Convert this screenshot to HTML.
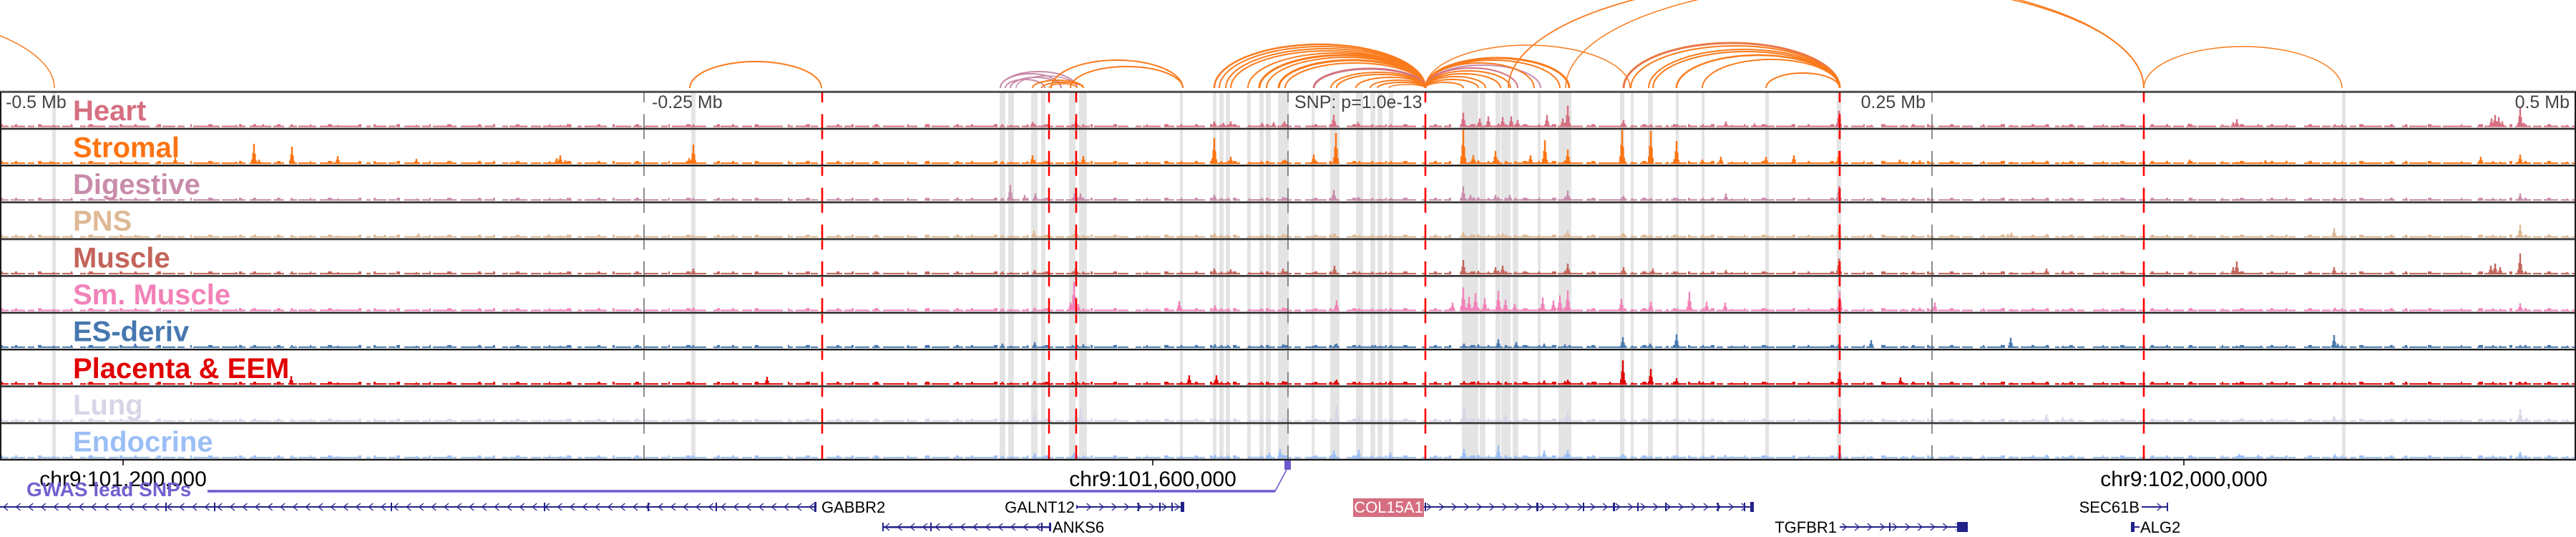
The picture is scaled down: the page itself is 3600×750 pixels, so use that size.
<!DOCTYPE html>
<html><head><meta charset="utf-8">
<style>
html,body{margin:0;padding:0;background:#fff;}
body{width:3600px;height:750px;overflow:hidden;}
svg{display:block;font-family:"Liberation Sans",Arial,sans-serif;}
</style></head>
<body>
<svg width="3600" height="750" viewBox="0 0 3600 750" xmlns="http://www.w3.org/2000/svg">
<defs>
<path id="pk" d="M-4 0V-.22H-2.5V-.55H-1.2V-1H1.2V-.5H2.6V-.18H4V0Z"/>
<g id="cb">
<use href="#pk" transform="translate(75)scale(1,3)"/><use href="#pk" transform="translate(190)scale(1,3)"/><use href="#pk" transform="translate(330)scale(1,3)"/><use href="#pk" transform="translate(355)scale(1,4)"/><use href="#pk" transform="translate(408)scale(1,4)"/><use href="#pk" transform="translate(472)scale(1,3)"/><use href="#pk" transform="translate(582)scale(1,3)"/><use href="#pk" transform="translate(783)scale(1,3)"/><use href="#pk" transform="translate(969)scale(1,4)"/><use href="#pk" transform="translate(1227)scale(1,3)"/>
<use href="#pk" transform="translate(1401)scale(1,4)"/><use href="#pk" transform="translate(1413)scale(1,3)"/><use href="#pk" transform="translate(1446)scale(1,5)"/><use href="#pk" transform="translate(1458)scale(1,3)"/><use href="#pk" transform="translate(1499)scale(1,4)"/><use href="#pk" transform="translate(1514)scale(1,4)"/><use href="#pk" transform="translate(1651)scale(1,4)"/><use href="#pk" transform="translate(1698)scale(1,5)"/><use href="#pk" transform="translate(1707)scale(1,4)"/><use href="#pk" transform="translate(1716)scale(1,4)"/><use href="#pk" transform="translate(1746)scale(1,3)"/><use href="#pk" transform="translate(1763)scale(1,4)"/><use href="#pk" transform="translate(1772)scale(1,4)"/><use href="#pk" transform="translate(1793)scale(1,5)"/><use href="#pk" transform="translate(1835)scale(1,3)"/><use href="#pk" transform="translate(1866)scale(1,5)"/><use href="#pk" transform="translate(1900)scale(1,4)"/><use href="#pk" transform="translate(1918)scale(1,4)"/><use href="#pk" transform="translate(1929)scale(1,3)"/><use href="#pk" transform="translate(1944)scale(1,4)"/>
<use href="#pk" transform="translate(2046)scale(1,5)"/><use href="#pk" transform="translate(2056)scale(1,4)"/><use href="#pk" transform="translate(2066)scale(1,5)"/><use href="#pk" transform="translate(2080)scale(1,4)"/><use href="#pk" transform="translate(2094)scale(1,5)"/><use href="#pk" transform="translate(2105)scale(1,4)"/><use href="#pk" transform="translate(2118)scale(1,4)"/><use href="#pk" transform="translate(2135)scale(1,3)"/><use href="#pk" transform="translate(2151)scale(1,4)"/><use href="#pk" transform="translate(2170)scale(1,4)"/><use href="#pk" transform="translate(2187)scale(1,5)"/><use href="#pk" transform="translate(2220)scale(1,3)"/><use href="#pk" transform="translate(2267)scale(1,5)"/><use href="#pk" transform="translate(2281)scale(1,3)"/><use href="#pk" transform="translate(2307)scale(1,4)"/><use href="#pk" transform="translate(2330)scale(1,3)"/><use href="#pk" transform="translate(2344)scale(1,4)"/><use href="#pk" transform="translate(2380)scale(1,4)"/><use href="#pk" transform="translate(2420)scale(1,3)"/><use href="#pk" transform="translate(2470)scale(1,3)"/><use href="#pk" transform="translate(2570)scale(1,6)"/>
<use href="#pk" transform="translate(2615)scale(1,3)"/><use href="#pk" transform="translate(2660)scale(1,3)"/><use href="#pk" transform="translate(2700)scale(1,3)"/><use href="#pk" transform="translate(2811)scale(1,3)"/><use href="#pk" transform="translate(2860)scale(1,4)"/><use href="#pk" transform="translate(2883)scale(1,3)"/><use href="#pk" transform="translate(3060)scale(1,3)"/><use href="#pk" transform="translate(3126)scale(1,3)"/><use href="#pk" transform="translate(3160)scale(1,3)"/><use href="#pk" transform="translate(3263)scale(1,4)"/><use href="#pk" transform="translate(3484)scale(1,4)"/><use href="#pk" transform="translate(3494)scale(1,3)"/><use href="#pk" transform="translate(3522)scale(1,4)"/><use href="#pk" transform="translate(3588)scale(1,3)"/>
<line x1="0" x2="3600" y1="-1" y2="-1" stroke-width="2" stroke="currentColor" stroke-dasharray="12 3 20 4 9 6 30 3 15 10 8 2 25 5 14 3 40 8 6 4 18 3 10 12 22 3"/>
<line x1="0" x2="3600" y1="-2" y2="-2" stroke-width="4" stroke="currentColor" stroke-dasharray="4 17 3 29 5 41 2 23 6 37"/>
</g>
<pattern id="cL1" patternUnits="userSpaceOnUse" x="0" y="702" width="17.6" height="12"><path d="M11 1L5 6L11 11" fill="none" stroke="#22228a" stroke-width="1.3"/></pattern>
<pattern id="cR1" patternUnits="userSpaceOnUse" x="0" y="702" width="17.6" height="12"><path d="M5 1L11 6L5 11" fill="none" stroke="#22228a" stroke-width="1.3"/></pattern>
<pattern id="cL2" patternUnits="userSpaceOnUse" x="0" y="730" width="17.6" height="12"><path d="M11 1L5 6L11 11" fill="none" stroke="#22228a" stroke-width="1.3"/></pattern>
<pattern id="cR2" patternUnits="userSpaceOnUse" x="0" y="730" width="17.6" height="12"><path d="M5 1L11 6L5 11" fill="none" stroke="#22228a" stroke-width="1.3"/></pattern>
</defs>

<!-- arcs -->
<g fill="none" stroke="#fa7b1c" stroke-width="2">
<path stroke-width="1.5" d="M-524 123A300 110 0 0 1 76 123"/>
<path d="M964 123A92 37 0 0 1 1148 123"/>
<path stroke="#c88aaa" d="M1398 123A53.5 23 0 0 1 1505 123"/>
<path stroke="#c88aaa" d="M1398 123A42.5 20 0 0 1 1483 123"/>
<path stroke="#c88aaa" d="M1412 123A35.5 15 0 0 1 1483 123"/>
<path stroke="#c88aaa" d="M1405 123A27.5 12 0 0 1 1460 123"/>
<path stroke="#c88aaa" stroke-width="1.5" d="M1420 123A42.5 17 0 0 1 1505 123"/>
<path d="M1443 123A35.5 11 0 0 1 1514 123"/>
<path d="M1456 123A29 8 0 0 1 1514 123"/>
<path stroke-width="1.5" d="M1466 123A19.5 6 0 0 1 1505 123"/>
<path d="M1469 123A92 39 0 0 1 1653 123"/>
<path d="M1496 123A78.5 30 0 0 1 1653 123"/>
<path stroke-width="2.5" d="M1697 123A147.5 61 0 0 1 1992 123"/>
<path d="M1704 123A144 58 0 0 1 1992 123"/>
<path d="M1713 123A139.5 55 0 0 1 1992 123"/>
<path d="M1720 123A136 52 0 0 1 1992 123"/>
<path d="M1744 123A124 49 0 0 1 1992 123"/>
<path stroke-width="3" d="M1760 123A116 46 0 0 1 1992 123"/>
<path d="M1770 123A111 43 0 0 1 1992 123"/>
<path stroke-width="3" d="M1787 123A102.5 39 0 0 1 1992 123"/>
<path d="M1796 123A98 35 0 0 1 1992 123"/>
<path stroke="#d4717f" stroke-width="3" d="M1836 123A78 27 0 0 1 1992 123"/>
<path d="M1860 123A66 22 0 0 1 1992 123"/>
<path d="M1868 123A62 19 0 0 1 1992 123"/>
<path d="M1895 123A48.5 15 0 0 1 1992 123"/>
<path d="M1915 123A38.5 11 0 0 1 1992 123"/>
<path d="M1925 123A33.5 8 0 0 1 1992 123"/>
<path stroke-width="1.5" d="M1941 123A25.5 5 0 0 1 1992 123"/>
<path stroke-width="3" d="M1992 123A100.5 42 0 0 1 2193 123"/>
<path d="M1992 123A94 39 0 0 1 2180 123"/>
<path stroke="#c88aaa" d="M1992 123A80.5 32 0 0 1 2153 123"/>
<path d="M1992 123A76 35 0 0 1 2144 123"/>
<path stroke="#d4717f" d="M1992 123A64.5 28 0 0 1 2121 123"/>
<path d="M1992 123A59.5 24 0 0 1 2111 123"/>
<path d="M1992 123A52.5 20 0 0 1 2097 123"/>
<path d="M1992 123A42 16 0 0 1 2076 123"/>
<path d="M1992 123A37 12 0 0 1 2066 123"/>
<path d="M1992 123A26.5 8 0 0 1 2045 123"/>
<path stroke-width="1.5" d="M1992 123A143 60 0 0 1 2278 123"/>
<path stroke-width="1.8" d="M2108 123A444 155 0 0 1 2996 123"/>
<path stroke-width="1.5" d="M2188 123A404 147 0 0 1 2996 123"/>
<path stroke-width="3" d="M2269 123A151 63 0 0 1 2571 123"/>
<path stroke="#d4717f" stroke-width="1.2" d="M2269 123A151 63 0 0 1 2571 123"/>
<path d="M2279 123A146 59 0 0 1 2571 123"/>
<path d="M2304 123A133.5 54 0 0 1 2571 123"/>
<path d="M2310 123A130.5 51 0 0 1 2571 123"/>
<path stroke-width="2.5" d="M2343 123A114 46 0 0 1 2571 123"/>
<path d="M2379 123A96 40 0 0 1 2571 123"/>
<path d="M2468 123A51.5 21 0 0 1 2571 123"/>
<path stroke-width="1.5" d="M2996 123A138.5 58 0 0 1 3273 123"/>
</g>

<!-- gray highlight columns -->
<g fill="#e4e4e4">
<rect x="73" y="129" width="5" height="512"/><rect x="966" y="129" width="6" height="512"/>
<rect x="1397" y="129" width="8" height="512"/><rect x="1409" y="129" width="8" height="512"/><rect x="1441" y="129" width="9" height="512"/><rect x="1455" y="129" width="6" height="512"/><rect x="1494" y="129" width="9" height="512"/><rect x="1508" y="129" width="11" height="512"/>
<rect x="1649" y="129" width="4" height="512"/><rect x="1695" y="129" width="5" height="512"/><rect x="1704" y="129" width="6" height="512"/><rect x="1713" y="129" width="6" height="512"/><rect x="1743" y="129" width="5" height="512"/><rect x="1760" y="129" width="6" height="512"/><rect x="1769" y="129" width="7" height="512"/><rect x="1786" y="129" width="15" height="512"/>
<rect x="1833" y="129" width="4" height="512"/><rect x="1859" y="129" width="13" height="512"/><rect x="1895" y="129" width="10" height="512"/><rect x="1915" y="129" width="7" height="512"/><rect x="1925" y="129" width="7" height="512"/><rect x="1941" y="129" width="6" height="512"/>
<rect x="2043" y="129" width="23" height="512"/><rect x="2068" y="129" width="8" height="512"/><rect x="2090" y="129" width="7" height="512"/><rect x="2098" y="129" width="13" height="512"/><rect x="2114" y="129" width="8" height="512"/><rect x="2149" y="129" width="4" height="512"/><rect x="2178" y="129" width="18" height="512"/>
<rect x="2264" y="129" width="6" height="512"/><rect x="2279" y="129" width="4" height="512"/><rect x="2303" y="129" width="7" height="512"/><rect x="2342" y="129" width="4" height="512"/><rect x="2378" y="129" width="4" height="512"/><rect x="2467" y="129" width="5" height="512"/><rect x="2567" y="129" width="6" height="512"/><rect x="3273" y="129" width="5" height="512"/>
</g>

<!-- signal tracks -->
<g transform="translate(0,177.5)" style="color:#d66e80" fill="currentColor">
<use href="#cb"/>
<use href="#pk" transform="translate(368)scale(1,4)"/><use href="#pk" transform="translate(407)scale(1,3)"/><use href="#pk" transform="translate(1443)scale(1,7)"/><use href="#pk" transform="translate(1503)scale(1,7)"/><use href="#pk" transform="translate(1697)scale(1,8)"/><use href="#pk" transform="translate(1710)scale(1,6)"/><use href="#pk" transform="translate(1720)scale(1,8)"/><use href="#pk" transform="translate(1764)scale(1,6)"/><use href="#pk" transform="translate(1780)scale(1,7)"/><use href="#pk" transform="translate(1795)scale(1,8)"/><use href="#pk" transform="translate(1864)scale(1,17)"/><use href="#pk" transform="translate(1898)scale(1,7)"/><use href="#pk" transform="translate(2045)scale(1,20)"/><use href="#pk" transform="translate(2068)scale(1,12)"/><use href="#pk" transform="translate(2080)scale(1,15)"/><use href="#pk" transform="translate(2100)scale(1,14)"/><use href="#pk" transform="translate(2112)scale(1,15)"/><use href="#pk" transform="translate(2121)scale(1,10)"/><use href="#pk" transform="translate(2162)scale(1,17)"/><use href="#pk" transform="translate(2184)scale(1,12)"/><use href="#pk" transform="translate(2191)scale(1,30)"/><use href="#pk" transform="translate(2269)scale(1,10)"/><use href="#pk" transform="translate(2412)scale(1,8)"/><use href="#pk" transform="translate(2452)scale(1,5)"/><use href="#pk" transform="translate(2505)scale(1,4)"/><use href="#pk" transform="translate(2570)scale(1,23)"/><use href="#pk" transform="translate(2861)scale(1,4)"/><use href="#pk" transform="translate(3059)scale(1,5)"/><use href="#pk" transform="translate(3121)scale(1,7)"/><use href="#pk" transform="translate(3126)scale(1,11)"/><use href="#pk" transform="translate(3156)scale(1,4)"/><use href="#pk" transform="translate(3482)scale(1,12)"/><use href="#pk" transform="translate(3487)scale(1,17)"/><use href="#pk" transform="translate(3492)scale(1,14)"/><use href="#pk" transform="translate(3497)scale(1,8)"/><use href="#pk" transform="translate(3522)scale(1,28)"/><use href="#pk" transform="translate(3527)scale(1,6)"/>
</g>
<g transform="translate(0,228.9)" style="color:#fd7311" fill="currentColor">
<use href="#cb"/>
<use href="#pk" transform="translate(71)scale(1,4)"/><use href="#pk" transform="translate(245)scale(1,9)"/><use href="#pk" transform="translate(355)scale(1,28)"/><use href="#pk" transform="translate(362)scale(1,6)"/><use href="#pk" transform="translate(408)scale(1,24)"/><use href="#pk" transform="translate(472)scale(1,11)"/><use href="#pk" transform="translate(582)scale(1,7)"/><use href="#pk" transform="translate(778)scale(1,8)"/><use href="#pk" transform="translate(783)scale(1,12)"/><use href="#pk" transform="translate(790)scale(1,5)"/><use href="#pk" transform="translate(963)scale(1,8)"/><use href="#pk" transform="translate(969)scale(1,27)"/><use href="#pk" transform="translate(1443)scale(1,12)"/><use href="#pk" transform="translate(1514)scale(1,11)"/><use href="#pk" transform="translate(1697)scale(1,36)"/><use href="#pk" transform="translate(1720)scale(1,10)"/><use href="#pk" transform="translate(1796)scale(1,6)"/><use href="#pk" transform="translate(1836)scale(1,13)"/><use href="#pk" transform="translate(1867)scale(1,43)"/><use href="#pk" transform="translate(2045)scale(1,48)"/><use href="#pk" transform="translate(2059)scale(1,12)"/><use href="#pk" transform="translate(2090)scale(1,18)"/><use href="#pk" transform="translate(2139)scale(1,12)"/><use href="#pk" transform="translate(2159)scale(1,33)"/><use href="#pk" transform="translate(2191)scale(1,20)"/><use href="#pk" transform="translate(2267)scale(1,48)"/><use href="#pk" transform="translate(2307)scale(1,46)"/><use href="#pk" transform="translate(2343)scale(1,32)"/><use href="#pk" transform="translate(2379)scale(1,6)"/><use href="#pk" transform="translate(2405)scale(1,10)"/><use href="#pk" transform="translate(2468)scale(1,10)"/><use href="#pk" transform="translate(2507)scale(1,12)"/><use href="#pk" transform="translate(2570)scale(1,18)"/><use href="#pk" transform="translate(2655)scale(1,6)"/><use href="#pk" transform="translate(2683)scale(1,5)"/><use href="#pk" transform="translate(2860)scale(1,4)"/><use href="#pk" transform="translate(3060)scale(1,6)"/><use href="#pk" transform="translate(3166)scale(1,5)"/><use href="#pk" transform="translate(3467)scale(1,10)"/><use href="#pk" transform="translate(3522)scale(1,13)"/>
</g>
<g transform="translate(0,280.3)" style="color:#c88caa" fill="currentColor">
<use href="#cb"/>
<use href="#pk" transform="translate(297)scale(1,3)"/><use href="#pk" transform="translate(1412)scale(1,22)"/><use href="#pk" transform="translate(1432)scale(1,8)"/><use href="#pk" transform="translate(1447)scale(1,10)"/><use href="#pk" transform="translate(1503)scale(1,18)"/><use href="#pk" transform="translate(1510)scale(1,10)"/><use href="#pk" transform="translate(1697)scale(1,8)"/><use href="#pk" transform="translate(1864)scale(1,15)"/><use href="#pk" transform="translate(1898)scale(1,5)"/><use href="#pk" transform="translate(2045)scale(1,20)"/><use href="#pk" transform="translate(2055)scale(1,8)"/><use href="#pk" transform="translate(2090)scale(1,8)"/><use href="#pk" transform="translate(2110)scale(1,8)"/><use href="#pk" transform="translate(2191)scale(1,14)"/><use href="#pk" transform="translate(2269)scale(1,7)"/><use href="#pk" transform="translate(2412)scale(1,10)"/><use href="#pk" transform="translate(2570)scale(1,21)"/><use href="#pk" transform="translate(2860)scale(1,4)"/><use href="#pk" transform="translate(3262)scale(1,4)"/><use href="#pk" transform="translate(3522)scale(1,10)"/>
</g>
<g transform="translate(0,331.7)" style="color:#deb996" fill="currentColor">
<use href="#cb"/>
<use href="#pk" transform="translate(43)scale(1,5)"/><use href="#pk" transform="translate(194)scale(1,3)"/><use href="#pk" transform="translate(538)scale(1,4)"/><use href="#pk" transform="translate(585)scale(1,6)"/><use href="#pk" transform="translate(766)scale(1,4)"/><use href="#pk" transform="translate(1445)scale(1,10)"/><use href="#pk" transform="translate(1503)scale(1,10)"/><use href="#pk" transform="translate(1697)scale(1,6)"/><use href="#pk" transform="translate(1864)scale(1,6)"/><use href="#pk" transform="translate(2045)scale(1,8)"/><use href="#pk" transform="translate(2100)scale(1,6)"/><use href="#pk" transform="translate(2191)scale(1,10)"/><use href="#pk" transform="translate(2269)scale(1,6)"/><use href="#pk" transform="translate(2570)scale(1,14)"/><use href="#pk" transform="translate(2614)scale(1,5)"/><use href="#pk" transform="translate(2806)scale(1,5)"/><use href="#pk" transform="translate(2811)scale(1,7)"/><use href="#pk" transform="translate(2860)scale(1,5)"/><use href="#pk" transform="translate(3126)scale(1,3)"/><use href="#pk" transform="translate(3262)scale(1,13)"/><use href="#pk" transform="translate(3484)scale(1,4)"/><use href="#pk" transform="translate(3522)scale(1,18)"/>
</g>
<g transform="translate(0,383.1)" style="color:#c3645a" fill="currentColor">
<use href="#cb"/>
<use href="#pk" transform="translate(969)scale(1,8)"/><use href="#pk" transform="translate(1446)scale(1,6)"/><use href="#pk" transform="translate(1503)scale(1,8)"/><use href="#pk" transform="translate(1697)scale(1,8)"/><use href="#pk" transform="translate(1720)scale(1,7)"/><use href="#pk" transform="translate(1793)scale(1,8)"/><use href="#pk" transform="translate(1865)scale(1,12)"/><use href="#pk" transform="translate(2045)scale(1,20)"/><use href="#pk" transform="translate(2090)scale(1,10)"/><use href="#pk" transform="translate(2100)scale(1,12)"/><use href="#pk" transform="translate(2191)scale(1,15)"/><use href="#pk" transform="translate(2269)scale(1,10)"/><use href="#pk" transform="translate(2310)scale(1,8)"/><use href="#pk" transform="translate(2412)scale(1,6)"/><use href="#pk" transform="translate(2570)scale(1,22)"/><use href="#pk" transform="translate(2860)scale(1,8)"/><use href="#pk" transform="translate(2883)scale(1,5)"/><use href="#pk" transform="translate(3121)scale(1,10)"/><use href="#pk" transform="translate(3126)scale(1,18)"/><use href="#pk" transform="translate(3262)scale(1,10)"/><use href="#pk" transform="translate(3481)scale(1,12)"/><use href="#pk" transform="translate(3487)scale(1,15)"/><use href="#pk" transform="translate(3494)scale(1,10)"/><use href="#pk" transform="translate(3522)scale(1,29)"/>
</g>
<g transform="translate(0,434.5)" style="color:#f282b9" fill="currentColor">
<use href="#cb"/>
<use href="#pk" transform="translate(353)scale(1,3)"/><use href="#pk" transform="translate(969)scale(1,5)"/><use href="#pk" transform="translate(1446)scale(1,5)"/><use href="#pk" transform="translate(1496)scale(1,12)"/><use href="#pk" transform="translate(1501)scale(1,41)"/><use href="#pk" transform="translate(1507)scale(1,10)"/><use href="#pk" transform="translate(1648)scale(1,14)"/><use href="#pk" transform="translate(1698)scale(1,8)"/><use href="#pk" transform="translate(1868)scale(1,15)"/><use href="#pk" transform="translate(2030)scale(1,12)"/><use href="#pk" transform="translate(2045)scale(1,33)"/><use href="#pk" transform="translate(2053)scale(1,20)"/><use href="#pk" transform="translate(2062)scale(1,25)"/><use href="#pk" transform="translate(2075)scale(1,18)"/><use href="#pk" transform="translate(2094)scale(1,28)"/><use href="#pk" transform="translate(2104)scale(1,16)"/><use href="#pk" transform="translate(2117)scale(1,10)"/><use href="#pk" transform="translate(2156)scale(1,19)"/><use href="#pk" transform="translate(2171)scale(1,15)"/><use href="#pk" transform="translate(2180)scale(1,22)"/><use href="#pk" transform="translate(2191)scale(1,29)"/><use href="#pk" transform="translate(2266)scale(1,17)"/><use href="#pk" transform="translate(2307)scale(1,13)"/><use href="#pk" transform="translate(2361)scale(1,27)"/><use href="#pk" transform="translate(2385)scale(1,13)"/><use href="#pk" transform="translate(2411)scale(1,12)"/><use href="#pk" transform="translate(2571)scale(1,28)"/><use href="#pk" transform="translate(2683)scale(1,5)"/><use href="#pk" transform="translate(2704)scale(1,12)"/><use href="#pk" transform="translate(3133)scale(1,4)"/><use href="#pk" transform="translate(3263)scale(1,5)"/><use href="#pk" transform="translate(3522)scale(1,11)"/>
</g>
<g transform="translate(0,485.9)" style="color:#4678af" fill="currentColor">
<use href="#cb"/>
<use href="#pk" transform="translate(189)scale(1,6)"/><use href="#pk" transform="translate(1401)scale(1,6)"/><use href="#pk" transform="translate(1446)scale(1,8)"/><use href="#pk" transform="translate(1514)scale(1,5)"/><use href="#pk" transform="translate(1868)scale(1,6)"/><use href="#pk" transform="translate(1922)scale(1,4)"/><use href="#pk" transform="translate(2046)scale(1,6)"/><use href="#pk" transform="translate(2094)scale(1,12)"/><use href="#pk" transform="translate(2119)scale(1,8)"/><use href="#pk" transform="translate(2158)scale(1,6)"/><use href="#pk" transform="translate(2268)scale(1,15)"/><use href="#pk" transform="translate(2306)scale(1,6)"/><use href="#pk" transform="translate(2343)scale(1,19)"/><use href="#pk" transform="translate(2570)scale(1,5)"/><use href="#pk" transform="translate(2615)scale(1,11)"/><use href="#pk" transform="translate(2810)scale(1,14)"/><use href="#pk" transform="translate(3262)scale(1,18)"/><use href="#pk" transform="translate(3267)scale(1,6)"/>
</g>
<g transform="translate(0,537.3)" style="color:#e10000" fill="currentColor">
<use href="#cb"/>
<use href="#pk" transform="translate(407)scale(1,12)"/><use href="#pk" transform="translate(1072)scale(1,11)"/><use href="#pk" transform="translate(1662)scale(1,13)"/><use href="#pk" transform="translate(1700)scale(1,13)"/><use href="#pk" transform="translate(1868)scale(1,7)"/><use href="#pk" transform="translate(1943)scale(1,5)"/><use href="#pk" transform="translate(2158)scale(1,6)"/><use href="#pk" transform="translate(2191)scale(1,7)"/><use href="#pk" transform="translate(2210)scale(1,4)"/><use href="#pk" transform="translate(2230)scale(1,4)"/><use href="#pk" transform="translate(2250)scale(1,4)"/><use href="#pk" transform="translate(2268)scale(1,34)"/><use href="#pk" transform="translate(2307)scale(1,22)"/><use href="#pk" transform="translate(2343)scale(1,9)"/><use href="#pk" transform="translate(2375)scale(1,5)"/><use href="#pk" transform="translate(2571)scale(1,15)"/><use href="#pk" transform="translate(2656)scale(1,10)"/><use href="#pk" transform="translate(3283)scale(1,3)"/><use href="#pk" transform="translate(3521)scale(1,4)"/>
</g>
<g transform="translate(0,588.7)" style="color:#dad4e8" fill="currentColor">
<use href="#cb"/>
<use href="#pk" transform="translate(1446)scale(1,11)"/><use href="#pk" transform="translate(1510)scale(1,18)"/><use href="#pk" transform="translate(1868)scale(1,22)"/><use href="#pk" transform="translate(1899)scale(1,8)"/><use href="#pk" transform="translate(2046)scale(1,20)"/><use href="#pk" transform="translate(2104)scale(1,10)"/><use href="#pk" transform="translate(2191)scale(1,15)"/><use href="#pk" transform="translate(2571)scale(1,20)"/><use href="#pk" transform="translate(2860)scale(1,10)"/><use href="#pk" transform="translate(2883)scale(1,6)"/><use href="#pk" transform="translate(3262)scale(1,8)"/><use href="#pk" transform="translate(3522)scale(1,17)"/><use href="#pk" transform="translate(3531)scale(1,5)"/>
</g>
<g transform="translate(0,640.1)" style="color:#9bbef5" fill="currentColor">
<use href="#cb"/>
<use href="#pk" transform="translate(1446)scale(1,7)"/><use href="#pk" transform="translate(1501)scale(1,8)"/><use href="#pk" transform="translate(1774)scale(1,8)"/><use href="#pk" transform="translate(1789)scale(1,13)"/><use href="#pk" transform="translate(1864)scale(1,11)"/><use href="#pk" transform="translate(1899)scale(1,12)"/><use href="#pk" transform="translate(1943)scale(1,8)"/><use href="#pk" transform="translate(2046)scale(1,13)"/><use href="#pk" transform="translate(2094)scale(1,18)"/><use href="#pk" transform="translate(2158)scale(1,11)"/><use href="#pk" transform="translate(2191)scale(1,12)"/><use href="#pk" transform="translate(2268)scale(1,6)"/><use href="#pk" transform="translate(2411)scale(1,5)"/><use href="#pk" transform="translate(2571)scale(1,12)"/><use href="#pk" transform="translate(2860)scale(1,5)"/><use href="#pk" transform="translate(3129)scale(1,6)"/><use href="#pk" transform="translate(3156)scale(1,5)"/><use href="#pk" transform="translate(3263)scale(1,6)"/><use href="#pk" transform="translate(3522)scale(1,9)"/>
</g>

<!-- dashed vertical markers -->
<g stroke-dasharray="35 16.4" stroke-dashoffset="20">
<g stroke="#707070" stroke-width="1.6">
<line x1="900" y1="128" x2="900" y2="642"/><line x1="1800" y1="128" x2="1800" y2="642"/><line x1="2700" y1="128" x2="2700" y2="642"/>
</g>
<g stroke="#ff0000" stroke-width="2.6">
<line x1="1149" y1="128" x2="1149" y2="642"/><line x1="1466" y1="128" x2="1466" y2="642"/><line x1="1504" y1="128" x2="1504" y2="642"/><line x1="1992" y1="128" x2="1992" y2="642"/><line x1="2571" y1="128" x2="2571" y2="642"/><line x1="2996" y1="128" x2="2996" y2="642"/>
</g>
</g>

<!-- frame -->
<g>
<line x1="0" y1="126.8" x2="3600" y2="126.8" stroke="#bbb" stroke-width="1"/>
<g stroke="#999" stroke-width="1">
<line x1="0" y1="181" x2="3600" y2="181"/><line x1="0" y1="232.4" x2="3600" y2="232.4"/><line x1="0" y1="283.8" x2="3600" y2="283.8"/><line x1="0" y1="335.2" x2="3600" y2="335.2"/><line x1="0" y1="386.6" x2="3600" y2="386.6"/><line x1="0" y1="438" x2="3600" y2="438"/><line x1="0" y1="489.4" x2="3600" y2="489.4"/><line x1="0" y1="540.8" x2="3600" y2="540.8"/><line x1="0" y1="592.2" x2="3600" y2="592.2"/>
</g>
<g stroke="#1a1a1a" stroke-width="2">
<line x1="0" y1="128.5" x2="3600" y2="128.5"/><line x1="0" y1="179.6" x2="3600" y2="179.6"/><line x1="0" y1="231" x2="3600" y2="231"/><line x1="0" y1="282.4" x2="3600" y2="282.4"/><line x1="0" y1="333.8" x2="3600" y2="333.8"/><line x1="0" y1="385.2" x2="3600" y2="385.2"/><line x1="0" y1="436.6" x2="3600" y2="436.6"/><line x1="0" y1="488" x2="3600" y2="488"/><line x1="0" y1="539.4" x2="3600" y2="539.4"/><line x1="0" y1="590.8" x2="3600" y2="590.8"/>
<line x1="0" y1="642" x2="3600" y2="642" stroke-width="2.6"/>
<line x1="1" y1="128" x2="1" y2="642"/><line x1="3599" y1="128" x2="3599" y2="642"/>
</g>
</g>

<!-- position labels -->
<g font-size="25" fill="#444">
<text x="8" y="151">-0.5 Mb</text>
<text x="911" y="151">-0.25 Mb</text>
<text x="1809" y="151">SNP: p=1.0e-13</text>
<text x="2691" y="151" text-anchor="end">0.25 Mb</text>
<text x="3591" y="151" text-anchor="end">0.5 Mb</text>
</g>

<!-- track labels -->
<g font-size="40" font-weight="bold">
<text x="102" y="168" fill="#d66e80">Heart</text>
<text x="102" y="219.4" fill="#fd7311">Stromal</text>
<text x="102" y="270.8" fill="#c88caa">Digestive</text>
<text x="102" y="322.2" fill="#deb996">PNS</text>
<text x="102" y="373.6" fill="#c3645a">Muscle</text>
<text x="102" y="425" fill="#f282b9">Sm. Muscle</text>
<text x="102" y="476.4" fill="#4678af">ES-deriv</text>
<text x="102" y="527.8" fill="#e10000">Placenta &amp; EEM</text>
<text x="102" y="579.2" fill="#dad4e8">Lung</text>
<text x="102" y="630.6" fill="#9bbef5">Endocrine</text>
</g>

<!-- axis -->
<g stroke="#000" stroke-width="1.5">
<line x1="172" y1="642" x2="172" y2="650"/><line x1="1611" y1="642" x2="1611" y2="650"/><line x1="3052" y1="642" x2="3052" y2="650"/>
</g>
<g font-size="30" fill="#000" text-anchor="middle">
<text x="172" y="679">chr9:101,200,000</text>
<text x="1611" y="679">chr9:101,600,000</text>
<text x="3052" y="679">chr9:102,000,000</text>
</g>

<!-- GWAS -->
<g fill="#6a5acd" stroke="#6a5acd">
<line x1="290" y1="686" x2="1782" y2="686" stroke-width="3.5"/>
<line x1="1782" y1="686" x2="1798" y2="656" stroke-width="1.6"/>
<rect x="1795" y="643" width="9" height="13" stroke="none"/>
<text x="37" y="693" font-size="28" font-weight="bold" stroke="none" fill-opacity="0.95">GWAS lead SNPs</text>
</g>

<!-- genes -->
<g fill="#22228a" stroke="none">
<!-- GABBR2 -->
<rect x="0" y="707" width="1141" height="2"/>
<rect x="0" y="702" width="1141" height="12" fill="url(#cL1)"/>
<rect x="231" y="702" width="2" height="12"/><rect x="299" y="702" width="2" height="12"/><rect x="546" y="702" width="2" height="12"/><rect x="760" y="702" width="2" height="12"/><rect x="905" y="702" width="2" height="12"/><rect x="1000" y="702" width="2" height="12"/><rect x="1138" y="701" width="3" height="14"/>
<!-- GALNT12 -->
<rect x="1504" y="707" width="151" height="2"/>
<rect x="1504" y="702" width="146" height="12" fill="url(#cR1)"/>
<rect x="1590" y="702" width="2" height="12"/><rect x="1620" y="702" width="2" height="12"/><rect x="1637" y="702" width="2" height="12"/><rect x="1650" y="701" width="5" height="14"/>
<!-- COL15A1 -->
<rect x="1990" y="707" width="461" height="2"/>
<rect x="1994" y="702" width="452" height="12" fill="url(#cR1)"/>
<rect x="1991" y="702" width="2" height="12"/><rect x="2147" y="702" width="3" height="12"/><rect x="2212" y="702" width="2" height="12"/><rect x="2254" y="702" width="3" height="12"/><rect x="2288" y="702" width="2" height="12"/><rect x="2327" y="702" width="2" height="12"/><rect x="2400" y="702" width="2" height="12"/><rect x="2437" y="702" width="2" height="12"/><rect x="2446" y="701" width="5" height="14"/>
<!-- SEC61B -->
<rect x="2993" y="707" width="37" height="2"/>
<rect x="3005" y="702" width="20" height="12" fill="url(#cR1)"/>
<rect x="3028" y="702" width="2" height="12"/>
<!-- ANKS6 -->
<rect x="1233" y="735" width="236" height="2.5"/>
<rect x="1233" y="730" width="236" height="12" fill="url(#cL2)"/>
<rect x="1233" y="730" width="2" height="12"/><rect x="1300" y="730" width="2" height="12"/><rect x="1455" y="730" width="2" height="12"/><rect x="1466" y="730" width="3" height="12"/>
<!-- TGFBR1 -->
<rect x="2571" y="735" width="179" height="2"/>
<rect x="2574" y="730" width="160" height="12" fill="url(#cR2)"/>
<rect x="2640" y="730" width="2" height="12"/><rect x="2735" y="729" width="15" height="14"/>
<!-- ALG2 -->
<rect x="2978" y="729" width="5" height="14"/><rect x="2983" y="735" width="7" height="2"/>
</g>
<rect x="1891" y="696" width="99" height="26" fill="#d66e80"/>
<g font-size="22" fill="#000">
<text x="1148" y="716">GABBR2</text>
<text x="1502" y="716" text-anchor="end">GALNT12</text>
<text x="1940.5" y="716" text-anchor="middle" fill="#fff">COL15A1</text>
<text x="2990" y="716" text-anchor="end">SEC61B</text>
<text x="1471" y="744">ANKS6</text>
<text x="2567" y="744" text-anchor="end">TGFBR1</text>
<text x="2991" y="744">ALG2</text>
</g>
</svg>
</body></html>
